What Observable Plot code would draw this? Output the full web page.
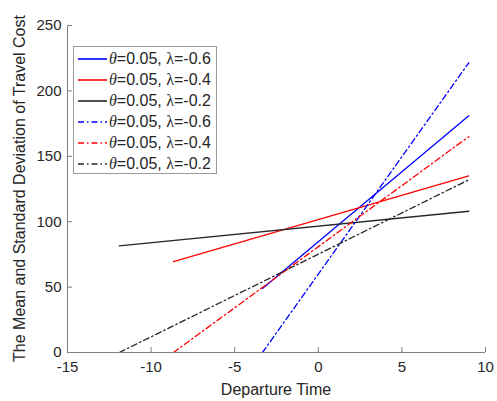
<!DOCTYPE html>
<html>
<head>
<meta charset="utf-8">
<script src="https://cdn.jsdelivr.net/npm/d3@7"></script>
<script src="https://cdn.jsdelivr.net/npm/@observablehq/plot@0.6"></script>
<style>
  html, body { margin: 0; padding: 0; background: #fff; }
  #wrap { position: relative; width: 497px; height: 401px; font-family: "Liberation Sans", Arial, sans-serif; }
  #legend { position: absolute; left: 73px; top: 46px; width: 144px; height: 128px; border: 1px solid #9a9a9a; background: #fff; box-sizing: border-box; padding-top: 1px; }
  .row { display: flex; align-items: center; height: 21px; }
  .row svg { margin-left: 4px; margin-right: 2px; }
  .row span { font-size: 16px; color: #262626; white-space: nowrap; }
  .sym { font-family: "Liberation Serif", "Times New Roman", serif; font-size: 17px; }
  .th { font-style: italic; }
</style>
</head>
<body>
<div id="wrap"></div>
<script>
// Data
const labels = ["θ=0.05, λ=-0.6", "θ=0.05, λ=-0.4", "θ=0.05, λ=-0.2", "θ=0.05, λ=-0.6", "θ=0.05, λ=-0.4", "θ=0.05, λ=-0.2"];
const thetas = ["0.05", "0.05", "0.05", "0.05", "0.05", "0.05"];
const lambdas = ["-0.6", "-0.4", "-0.2", "-0.6", "-0.4", "-0.2"];
const colors = ["#0000ff", "#ff0000", "#262626", "#0000ff", "#ff0000", "#262626"];
const styles = ["solid", "solid", "solid", "dashdot", "dashdot", "dashdot"];
const xStart = [-3.34, -8.66, -11.9, -3.34, -8.66, -11.9];
const yStart = [49, 69.5, 81.5, 0, 0, 0];
const xEnd = [9, 9, 9, 9, 9, 9];
const yEnd = [181, 135, 108, 221.5, 165, 132];
const xTicks = [-15, -10, -5, 0, 5, 10];
const yTicks = [0, 50, 100, 150, 200, 250];

const dashdot = "6,3,1.5,3";

const pts = [];
labels.forEach((l, i) => {
  pts.push({s: i, x: xStart[i], y: yStart[i]});
  pts.push({s: i, x: xEnd[i], y: yEnd[i]});
});

const plot = Plot.plot({
  width: 497,
  height: 401,
  marginLeft: 67,
  marginRight: 12,
  marginTop: 25,
  marginBottom: 49,
  style: {fontFamily: "'Liberation Sans', Arial, sans-serif", fontSize: "15px", color: "#262626", background: "#fff"},
  x: {domain: [-15, 10]},
  y: {domain: [0, 250]},
  marks: [
    ...labels.map((l, i) => Plot.line(pts.filter(p => p.s === i), {
      x: "x", y: "y", stroke: colors[i], strokeWidth: 1.3,
      strokeDasharray: styles[i] === "dashdot" ? dashdot : null
    })),
    Plot.axisX({ticks: xTicks, tickSize: -5, tickPadding: 14, stroke: "#808080", tickFormat: d => d < 0 ? "-" + Math.abs(d) : String(d), fill: "#262626", label: null}),
    Plot.axisY({ticks: yTicks, tickSize: -5, tickPadding: 11, stroke: "#808080", fill: "#262626", label: null}),
    Plot.ruleY([0], {stroke: "#808080"}),
    Plot.ruleX([-15], {stroke: "#808080"})
  ]
});

const wrap = document.getElementById("wrap");
plot.style.position = "absolute";
plot.style.left = "0px";
plot.style.top = "0px";
wrap.appendChild(plot);

// Axis labels
const svg = d3.select(plot);
svg.append("text")
  .attr("x", (67 + 485) / 2).attr("y", 395)
  .attr("text-anchor", "middle")
  .attr("font-size", 16).attr("fill", "#262626")
  .text("Departure Time");
svg.append("text")
  .attr("transform", `translate(25,${(25 + 352) / 2}) rotate(-90)`)
  .attr("text-anchor", "middle")
  .attr("font-size", 16).attr("fill", "#262626")
  .text("The Mean and Standard Deviation of Travel Cost");

// Legend
const leg = document.createElement("div");
leg.id = "legend";
labels.forEach((l, i) => {
  const row = document.createElement("div");
  row.className = "row";
  row.innerHTML = `<svg width="29" height="6"><line x1="0" y1="3" x2="29" y2="3" stroke="${colors[i]}" stroke-width="1.6" ${styles[i] === "dashdot" ? `stroke-dasharray="${dashdot}"` : ""}/></svg>` +
    `<span><span class="sym th">θ</span>=${thetas[i]}, <span class="sym">λ</span>=${lambdas[i]}</span>`;
  leg.appendChild(row);
});
wrap.appendChild(leg);
</script>
</body>
</html>
